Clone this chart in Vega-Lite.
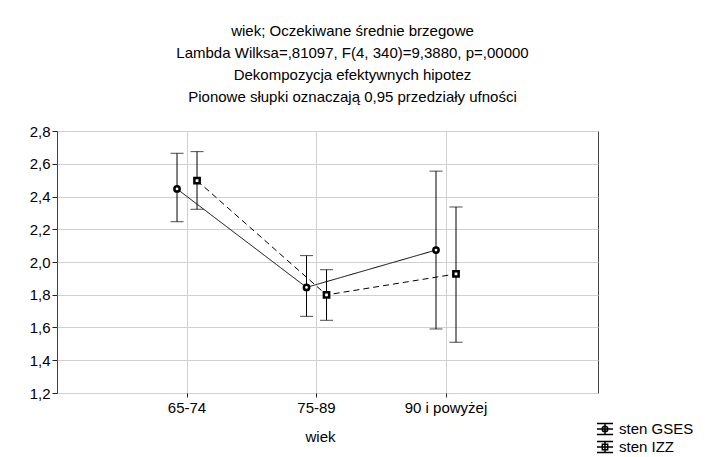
{
  "$schema": "https://vega.github.io/schema/vega-lite/v6.json",
  "width": 541,
  "height": 262,
  "autosize": {"type": "none"},
  "padding": {"left": 57, "top": 131, "right": 114, "bottom": 64},
  "background": "white",
  "config": {
    "font": "Liberation Sans",
    "view": {"stroke": "#444", "strokeWidth": 1},
    "axis": {"labelFont": "Liberation Sans", "labelFontSize": 15, "labelColor": "black", "titleFont": "Liberation Sans", "titleFontSize": 15, "titleFontWeight": "normal", "titleColor": "black", "grid": true, "gridColor": "#d0d0d0", "gridWidth": 1, "gridOpacity": 1, "tickColor": "#222", "domain": false}
  },
  "title": {
    "text": ["wiek; Oczekiwane średnie brzegowe", "Lambda Wilksa=,81097, F(4, 340)=9,3880, p=,00000", "Dekompozycja efektywnych hipotez", "Pionowe słupki oznaczają 0,95 przedziały ufności"],
    "anchor": "middle", "frame": "group", "dx": 25, "offset": 19,
    "font": "Liberation Sans", "fontSize": 15, "fontWeight": "normal", "lineHeight": 22, "color": "black"
  },
  "data": {"values": [
    {"wiek": "65-74", "series": "sten GSES", "mean": 2.446, "lower": 2.246, "upper": 2.664},
    {"wiek": "75-89", "series": "sten GSES", "mean": 1.845, "lower": 1.668, "upper": 2.039},
    {"wiek": "90 i powyżej", "series": "sten GSES", "mean": 2.073, "lower": 1.591, "upper": 2.555},
    {"wiek": "65-74", "series": "sten IZZ", "mean": 2.497, "lower": 2.322, "upper": 2.674},
    {"wiek": "75-89", "series": "sten IZZ", "mean": 1.799, "lower": 1.644, "upper": 1.953},
    {"wiek": "90 i powyżej", "series": "sten IZZ", "mean": 1.927, "lower": 1.510, "upper": 2.336}
  ]},
  "encoding": {
    "x": {"field": "wiek", "type": "ordinal", "sort": null,
      "scale": {"type": "band", "paddingInner": 0, "paddingOuter": 0.589, "align": 0.428},
      "axis": {"title": "wiek", "labelAngle": 0, "tickSize": 4, "labelPadding": 3, "titlePadding": 14, "grid": true, "bandPosition": 0.5, "titleX": 263}},
    "y": {"field": "mean", "type": "quantitative",
      "scale": {"domain": [1.2, 2.8], "nice": false, "zero": false},
      "axis": {"title": null, "grid": true, "values": [1.2, 1.4, 1.6, 1.8, 2.0, 2.2, 2.4, 2.6, 2.8], "labelExpr": "replace(format(datum.value, '.1f'), '.', ',')", "tickSize": 5, "labelPadding": 2}}
  },
  "layer": [
    {
      "mark": {"type": "line", "color": "black", "strokeWidth": 1, "xOffset": {"expr": "datum.series === 'sten GSES' ? -10 : 10"}},
      "encoding": {
        "detail": {"field": "series"},
        "strokeDash": {"field": "series", "type": "nominal", "scale": {"domain": ["sten GSES", "sten IZZ"], "range": [[1, 0], [6, 4]]}, "legend": null}
      }
    },
    {
      "mark": {"type": "rule", "color": "black", "strokeWidth": 1, "xOffset": {"expr": "datum.series === 'sten GSES' ? -10 : 10"}},
      "encoding": {"y": {"field": "lower", "type": "quantitative"}, "y2": {"field": "upper"}}
    },
    {
      "mark": {"type": "tick", "color": "black", "thickness": 1, "size": 13, "orient": "horizontal", "xOffset": {"expr": "datum.series === 'sten GSES' ? -10 : 10"}},
      "encoding": {"y": {"field": "lower", "type": "quantitative"}}
    },
    {
      "mark": {"type": "tick", "color": "black", "thickness": 1, "size": 13, "orient": "horizontal", "xOffset": {"expr": "datum.series === 'sten GSES' ? -10 : 10"}},
      "encoding": {"y": {"field": "upper", "type": "quantitative"}}
    },
    {
      "mark": {"type": "point", "filled": false, "fill": "white", "stroke": "black", "strokeWidth": 2.5, "size": 28, "opacity": 1, "xOffset": {"expr": "datum.series === 'sten GSES' ? -10 : 10"}},
      "encoding": {
        "shape": {"field": "series", "type": "nominal", "scale": {"domain": ["sten GSES", "sten IZZ"], "range": ["circle", "square"]}, "legend": null}
      }
    },
    {
      "mark": {"type": "point", "filled": false, "opacity": 0, "color": "black"},
      "encoding": {
        "shape": {"field": "series", "type": "nominal", "title": null,
          "scale": {"domain": ["sten GSES", "sten IZZ"], "range": [
            "M-1.15,-0.78H1.15M-1.15,0H1.15M-1.15,0.78H1.15M0,-0.78V0.78M0.4,0A0.4,0.4 0 1,1 -0.4,0A0.4,0.4 0 1,1 0.4,0Z",
            "M-1.15,-0.78H1.15M-1.15,0H1.15M-1.15,0.78H1.15M0,-0.78V0.78M-0.38,-0.38H0.38V0.38H-0.38Z"]},
          "legend": {"orient": "none", "legendX": 540, "legendY": 290, "symbolSize": 196, "rowPadding": 0, "labelFont": "Liberation Sans", "labelFontSize": 15, "labelColor": "black", "labelOffset": 6,
            "encode": {"symbols": {"update": {"opacity": {"value": 1}, "fill": {"value": "black"}, "fillOpacity": {"value": 1}, "stroke": {"value": "black"}, "strokeWidth": {"value": 1}, "strokeOpacity": {"value": 1}}}}}}
      }
    }
  ],
  "resolve": {"scale": {"shape": "independent"}}
}
